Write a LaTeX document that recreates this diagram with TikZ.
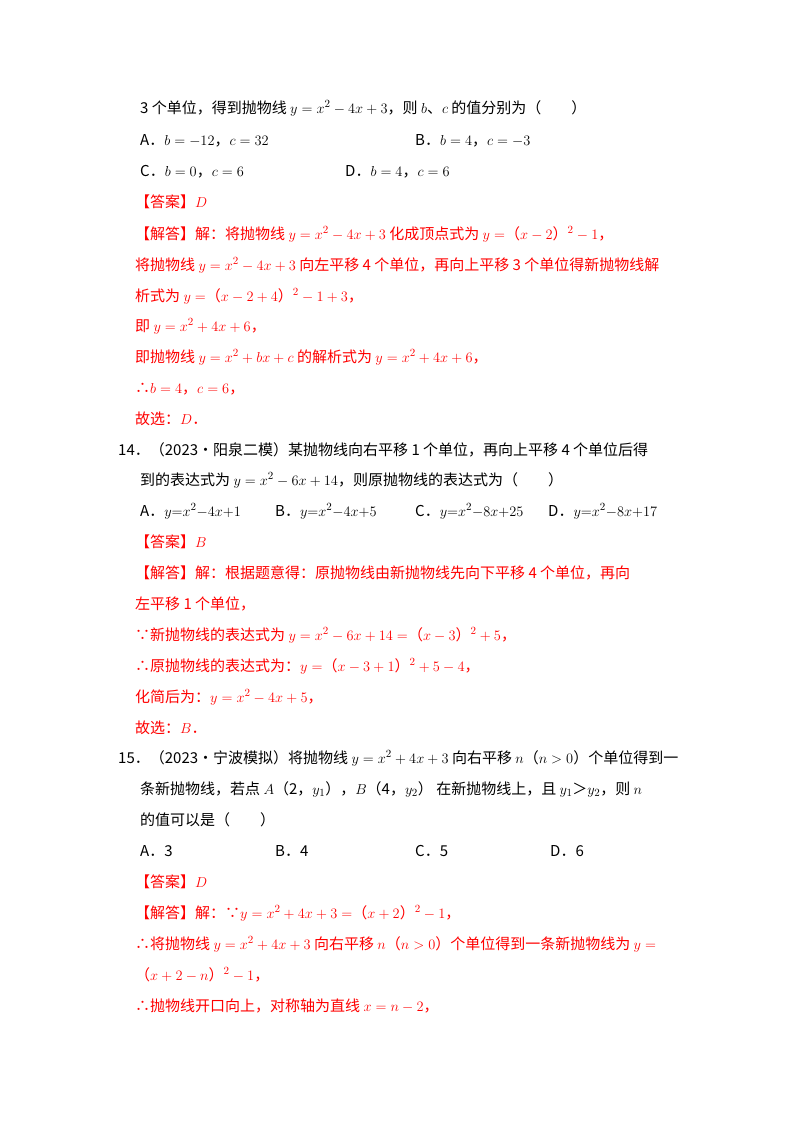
\documentclass[tikz,border=0pt]{standalone}
\usepackage{fontspec}
\setmainfont{Noto Sans CJK SC}
\definecolor{ans}{RGB}{255,0,0}
\begin{document}
\begin{tikzpicture}[x=1pt,y=-1pt,
  t/.style={anchor=base west,inner sep=0pt,font=\fontsize{15}{18}\selectfont},
  r/.style={t,text=ans}]
\useasboundingbox[fill=white] (0,0) rectangle (800,1132);
\node[t] (l1) at (140,113) {3 个单位，得到抛物线 $y=x^2-4x+3$，则 $b$、$c$ 的值分别为（　　）};
\node[t] (a1) at (140,145) {A．$b=-12$，$c=32$};
\node[t] (b1) at (415,145) {B．$b=4$，$c=-3$};
\node[t] (c1) at (140,176) {C．$b=0$，$c=6$};
\node[t] (d1) at (345,176) {D．$b=4$，$c=6$};
\node[r] (s1) at (135,207) {【答案】$D$};
\node[r] (s2) at (135,239) {【解答】解：将抛物线 $y=x^2-4x+3$ 化成顶点式为 $y=$（$x-2$）$^2-1$，};
\node[r] (s3) at (135,270) {将抛物线 $y=x^2-4x+3$ 向左平移 4 个单位，再向上平移 3 个单位得新抛物线解};
\node[r] (s4) at (135,301) {析式为 $y=$（$x-2+4$）$^2-1+3$，};
\node[r] (s5) at (135,331) {即 $y=x^2+4x+6$，};
\node[r] (s6) at (135,362) {即抛物线 $y=x^2+bx+c$ 的解析式为 $y=x^2+4x+6$，};
\node[r] (s7) at (135,393) {∴$b=4$，$c=6$，};
\node[r] (s8) at (135,424) {故选：$D$．};
\node[t] (q14) at (118,455) {14．（2023•阳泉二模）某抛物线向右平移 1 个单位，再向上平移 4 个单位后得};
\node[t] (q14b) at (140,485) {到的表达式为 $y=x^2-6x+14$，则原抛物线的表达式为（　　）};
\node[t] (a2) at (140,516) {A．$y{=}x^2{-}4x{+}1$};
\node[t] (b2) at (275,516) {B．$y{=}x^2{-}4x{+}5$};
\node[t] (c2) at (415,516) {C．$y{=}x^2{-}8x{+}25$};
\node[t] (d2) at (548,516) {D．$y{=}x^2{-}8x{+}17$};
\node[r] (u1) at (135,547) {【答案】$B$};
\node[r] (u2) at (135,578) {【解答】解：根据题意得：原抛物线由新抛物线先向下平移 4 个单位，再向};
\node[r] (u3) at (135,609) {左平移 1 个单位，};
\node[r] (u4) at (135,640) {∵新抛物线的表达式为 $y=x^2-6x+14=$（$x-3$）$^2+5$，};
\node[r] (u5) at (135,671) {∴原抛物线的表达式为：$y=$（$x-3+1$）$^2+5-4$，};
\node[r] (u6) at (135,702) {化简后为：$y=x^2-4x+5$，};
\node[r] (u7) at (135,733) {故选：$B$．};
\node[t] (q15) at (118,763) {15．（2023•宁波模拟）将抛物线 $y=x^2+4x+3$ 向右平移 $n$（$n>0$）个单位得到一};
\node[t] (q15b) at (140,794) {条新抛物线，若点 $A$（2，$y_1$），$B$（4，$y_2$）\ 在新抛物线上，且 $y_1$＞$y_2$，则 $n$};
\node[t] (q15c) at (140,825) {的值可以是（　　）};
\node[t] (a3) at (140,856) {A．3};
\node[t] (b3) at (275,856) {B．4};
\node[t] (c3) at (415,856) {C．5};
\node[t] (d3) at (550,856) {D．6};
\node[r] (v1) at (135,887) {【答案】$D$};
\node[r] (v2) at (135,918) {【解答】解：∵$y=x^2+4x+3=$（$x+2$）$^2-1$，};
\node[r] (v3) at (135,949) {∴将抛物线 $y=x^2+4x+3$ 向右平移 $n$（$n>0$）个单位得到一条新抛物线为 $y=$};
\node[r] (v4) at (135,980) {（$x+2-n$）$^2-1$，};
\node[r] (v5) at (135,1011) {∴抛物线开口向上，对称轴为直线 $x=n-2$，};
\end{tikzpicture}
\end{document}
